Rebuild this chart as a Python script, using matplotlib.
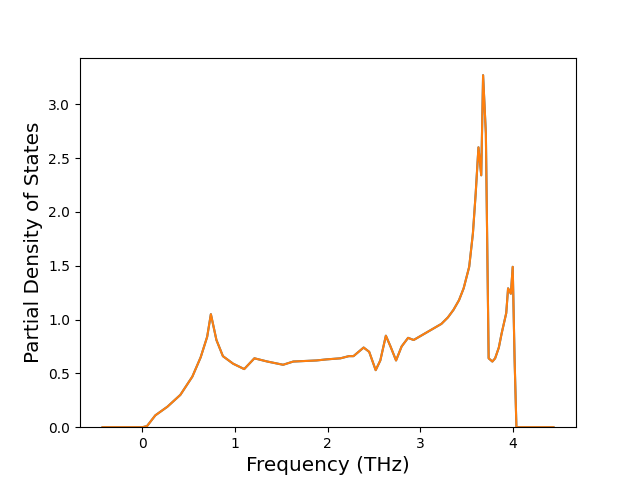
import numpy as np
import matplotlib
matplotlib.use("Agg")
import matplotlib.pyplot as plt

# frequency points (THz) and partial DOS
freq = [-0.43, 0.0, 0.05, 0.14, 0.27, 0.41, 0.54, 0.63, 0.70, 0.74, 0.80, 0.87,
        0.98, 1.10, 1.21, 1.35, 1.52, 1.63, 1.88, 1.99, 2.14, 2.23, 2.28, 2.39,
        2.45, 2.52, 2.57, 2.63, 2.68, 2.74, 2.80, 2.87, 2.93, 3.00, 3.07, 3.15,
        3.23, 3.30, 3.36, 3.42, 3.47, 3.53, 3.57, 3.60, 3.63, 3.66, 3.68, 3.71,
        3.74, 3.78, 3.81, 3.85, 3.88, 3.93, 3.95, 3.98, 4.00, 4.02, 4.04, 4.44]
pdos = [0.0, 0.0, 0.01, 0.11, 0.19, 0.30, 0.47, 0.65, 0.84, 1.05, 0.81, 0.66,
        0.59, 0.54, 0.64, 0.61, 0.58, 0.61, 0.62, 0.63, 0.64, 0.66, 0.66, 0.74,
        0.70, 0.53, 0.62, 0.85, 0.75, 0.62, 0.75, 0.83, 0.81, 0.845, 0.88, 0.92,
        0.96, 1.02, 1.09, 1.18, 1.29, 1.49, 1.80, 2.17, 2.60, 2.34, 3.27, 2.73,
        0.64, 0.61, 0.64, 0.74, 0.87, 1.06, 1.29, 1.24, 1.49, 0.64, 0.0, 0.0]

freq = np.array(freq)
pdos = np.array(pdos)

fig, ax = plt.subplots(figsize=(6.4, 4.8), dpi=100)
ax.plot(freq, pdos)
ax.plot(freq, pdos)
ax.set_ylim(bottom=0)
ax.set_xlabel("Frequency (THz)", fontsize="x-large")
ax.set_ylabel("Partial Density of States", fontsize="x-large")
fig.savefig("out.png")
